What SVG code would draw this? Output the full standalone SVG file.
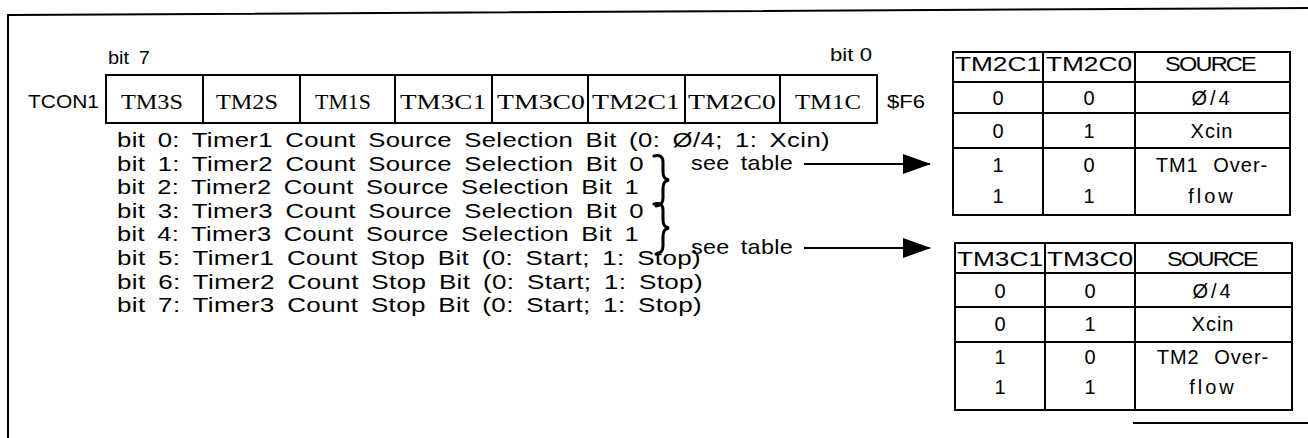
<svg xmlns="http://www.w3.org/2000/svg" width="1308" height="438" viewBox="0 0 1308 438">
<style>
.s{font-family:"Liberation Sans",Arial,sans-serif;fill:#000;font-size:19px}
.r{font-family:"Liberation Serif","Times New Roman",serif;fill:#000;font-size:22px;text-anchor:middle}
.d{font-family:"Liberation Sans",Arial,sans-serif;font-size:21px;letter-spacing:0.3px;word-spacing:4px;fill:#000}
.t{font-family:"Liberation Sans",Arial,sans-serif;font-size:20px;text-anchor:middle;fill:#000}
.ln{stroke:#000;stroke-width:2;fill:none}
.br{stroke:#000;stroke-width:3;fill:none;stroke-linecap:round}
</style>
<defs>
<marker id="ah" markerWidth="28" markerHeight="20" refX="27" refY="10" orient="auto" markerUnits="userSpaceOnUse">
<path d="M0,0 L28,10 L0,20 Z" fill="#000"/>
</marker>
</defs>
<g id="frame">
<path d="M8,438 L8,15 L1308,8" class="ln" stroke-width="3"/>
<line x1="1133" y1="423" x2="1308" y2="423" class="ln"/>
</g>
<g id="register">
<text class="s" x="108" y="64" textLength="42" lengthAdjust="spacingAndGlyphs" word-spacing="4">bit 7</text>
<text class="s" x="830" y="61" textLength="42" lengthAdjust="spacingAndGlyphs">bit 0</text>
<text class="s" x="28" y="108" textLength="71" lengthAdjust="spacingAndGlyphs">TCON1</text>
<rect x="106" y="75" width="771" height="48" class="ln"/>
<line x1="203" y1="75" x2="203" y2="123" class="ln"/>
<line x1="300" y1="75" x2="300" y2="123" class="ln"/>
<line x1="395" y1="75" x2="395" y2="123" class="ln"/>
<line x1="492" y1="75" x2="492" y2="123" class="ln"/>
<line x1="588" y1="75" x2="588" y2="123" class="ln"/>
<line x1="685" y1="75" x2="685" y2="123" class="ln"/>
<line x1="780" y1="75" x2="780" y2="123" class="ln"/>
<text class="r" x="152" y="109" textLength="62" lengthAdjust="spacingAndGlyphs">TM3S</text>
<text class="r" x="247" y="109" textLength="62" lengthAdjust="spacingAndGlyphs">TM2S</text>
<text class="r" x="343" y="109" textLength="56" lengthAdjust="spacingAndGlyphs">TM1S</text>
<text class="r" x="443" y="109" textLength="86" lengthAdjust="spacingAndGlyphs">TM3C1</text>
<text class="r" x="541" y="109" textLength="88" lengthAdjust="spacingAndGlyphs">TM3C0</text>
<text class="r" x="636" y="109" textLength="88" lengthAdjust="spacingAndGlyphs">TM2C1</text>
<text class="r" x="732" y="109" textLength="88" lengthAdjust="spacingAndGlyphs">TM2C0</text>
<text class="r" x="828" y="109" textLength="66" lengthAdjust="spacingAndGlyphs">TM1C</text>
<text class="s" x="887" y="108" textLength="38" lengthAdjust="spacingAndGlyphs">$F6</text>
</g>
<g id="descriptions">
<text class="d" x="117" y="147" textLength="713" lengthAdjust="spacingAndGlyphs">bit 0: Timer1 Count Source Selection Bit (0: Ø/4; 1: Xcin)</text>
<text class="d" x="117" y="171" textLength="527" lengthAdjust="spacingAndGlyphs">bit 1: Timer2 Count Source Selection Bit 0</text>
<text class="d" x="117" y="194" textLength="522" lengthAdjust="spacingAndGlyphs">bit 2: Timer2 Count Source Selection Bit 1</text>
<text class="d" x="117" y="218" textLength="527" lengthAdjust="spacingAndGlyphs">bit 3: Timer3 Count Source Selection Bit 0</text>
<text class="d" x="117" y="241" textLength="522" lengthAdjust="spacingAndGlyphs">bit 4: Timer3 Count Source Selection Bit 1</text>
<text class="d" x="117" y="265" textLength="584" lengthAdjust="spacingAndGlyphs">bit 5: Timer1 Count Stop Bit (0: Start; 1: Stop)</text>
<text class="d" x="117" y="289" textLength="586" lengthAdjust="spacingAndGlyphs">bit 6: Timer2 Count Stop Bit (0: Start; 1: Stop)</text>
<text class="d" x="117" y="312" textLength="585" lengthAdjust="spacingAndGlyphs">bit 7: Timer3 Count Stop Bit (0: Start; 1: Stop)</text>
</g>
<g id="connectors">
<path class="br" d="M654,156 Q663,154 663,162 L663,172 Q663,179 669,180 Q663,181 663,188 L663,198 Q663,205 656,206"/>
<path class="br" d="M654,204 Q663,202 663,210 L663,220 Q663,227 669,228 Q663,229 663,236 L663,246 Q663,253 656,254"/>
<text class="d" x="691" y="170" textLength="102" lengthAdjust="spacingAndGlyphs">see table</text>
<text class="d" x="691" y="254" textLength="102" lengthAdjust="spacingAndGlyphs">see table</text>
<line x1="804" y1="164" x2="930" y2="164" class="ln" marker-end="url(#ah)"/>
<line x1="804" y1="248" x2="930" y2="248" class="ln" marker-end="url(#ah)"/>
</g>
<g id="table1">
<rect x="953" y="52" width="337" height="163" class="ln"/>
<line x1="1043" y1="52" x2="1043" y2="215" class="ln"/>
<line x1="1135" y1="52" x2="1135" y2="215" class="ln"/>
<line x1="953" y1="82" x2="1290" y2="82" class="ln"/>
<line x1="953" y1="113" x2="1290" y2="113" class="ln"/>
<line x1="953" y1="148" x2="1290" y2="148" class="ln"/>
<text class="t" x="998" y="71" textLength="86" lengthAdjust="spacingAndGlyphs">TM2C1</text>
<text class="t" x="1089" y="71" textLength="86" lengthAdjust="spacingAndGlyphs">TM2C0</text>
<text class="t" x="1210" y="71" textLength="90" lengthAdjust="spacingAndGlyphs" letter-spacing="-1.5">SOURCE</text>
<text class="t" x="998" y="105">0</text>
<text class="t" x="1089" y="105">0</text>
<text class="t" x="1212" y="105" letter-spacing="3">Ø/4</text>
<text class="t" x="998" y="138">0</text>
<text class="t" x="1089" y="138">1</text>
<text class="t" x="1212" y="138" letter-spacing="1">Xcin</text>
<text class="t" x="998" y="172">1</text>
<text class="t" x="1089" y="172">0</text>
<text class="t" x="1212" y="172" letter-spacing="1" word-spacing="8">TM1 Over-</text>
<text class="t" x="998" y="203">1</text>
<text class="t" x="1089" y="203">1</text>
<text class="t" x="1212" y="203" letter-spacing="3">flow</text>
</g>
<g id="table2">
<rect x="955" y="243" width="337" height="167" class="ln"/>
<line x1="1045" y1="243" x2="1045" y2="410" class="ln"/>
<line x1="1135" y1="243" x2="1135" y2="410" class="ln"/>
<line x1="955" y1="273" x2="1292" y2="273" class="ln"/>
<line x1="955" y1="307" x2="1292" y2="307" class="ln"/>
<line x1="955" y1="342" x2="1292" y2="342" class="ln"/>
<text class="t" x="1000" y="266" textLength="86" lengthAdjust="spacingAndGlyphs">TM3C1</text>
<text class="t" x="1090" y="266" textLength="86" lengthAdjust="spacingAndGlyphs">TM3C0</text>
<text class="t" x="1212" y="266" textLength="90" lengthAdjust="spacingAndGlyphs" letter-spacing="-1.5">SOURCE</text>
<text class="t" x="1000" y="298">0</text>
<text class="t" x="1090" y="298">0</text>
<text class="t" x="1213" y="298" letter-spacing="3">Ø/4</text>
<text class="t" x="1000" y="331">0</text>
<text class="t" x="1090" y="331">1</text>
<text class="t" x="1213" y="331" letter-spacing="1">Xcin</text>
<text class="t" x="1000" y="364">1</text>
<text class="t" x="1090" y="364">0</text>
<text class="t" x="1213" y="364" letter-spacing="1" word-spacing="8">TM2 Over-</text>
<text class="t" x="1000" y="394">1</text>
<text class="t" x="1090" y="394">1</text>
<text class="t" x="1213" y="394" letter-spacing="3">flow</text>
</g>
</svg>
